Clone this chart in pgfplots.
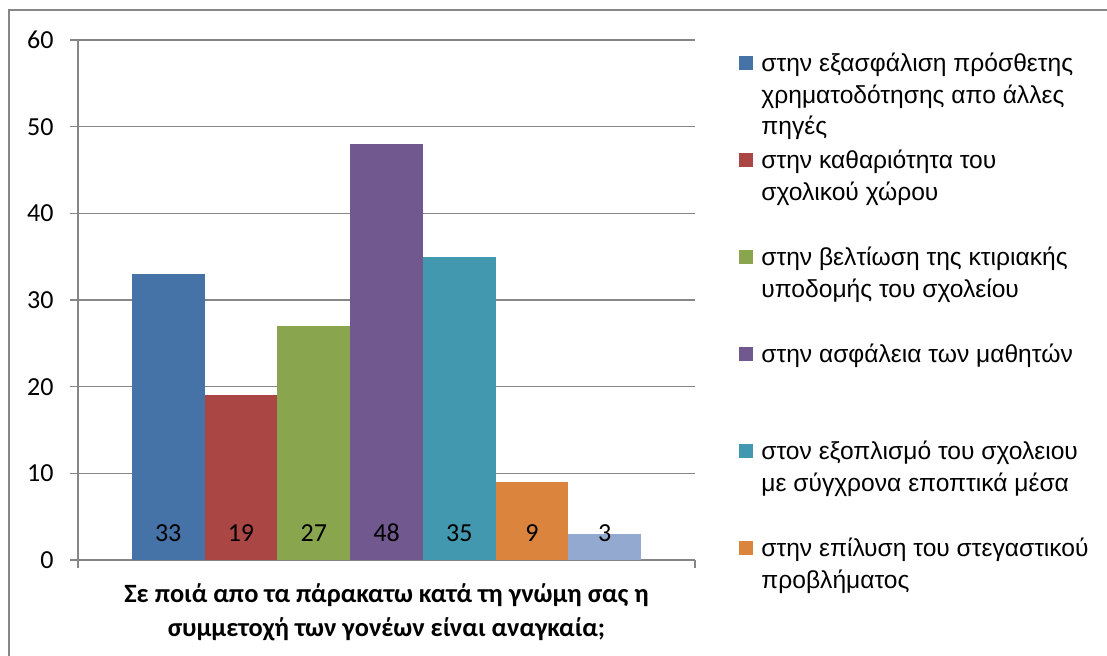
\documentclass[border=0pt]{standalone}
\usepackage{pgfplots}
\pgfplotsset{compat=1.18}
\usepackage{fontspec}
\setmainfont{Carlito}
\newfontfamily\arial{Liberation Sans}
\definecolor{c1}{HTML}{4572A7}
\definecolor{c2}{HTML}{AA4643}
\definecolor{c3}{HTML}{89A54E}
\definecolor{c4}{HTML}{71588F}
\definecolor{c5}{HTML}{4198AF}
\definecolor{c6}{HTML}{DB843D}
\definecolor{c7}{HTML}{93A9CF}
\definecolor{axgray}{HTML}{868686}
\newcommand{\legtxt}[1]{\parbox[t]{180pt}{\raggedright #1}}
\pgfplotsset{
  mybar/.style={ybar, bar width=1, bar shift=0pt, draw=none, fill=#1,
    legend image code/.code={\fill[#1] (0pt,15.3pt) rectangle (7pt,22.3pt);}},
}
\begin{document}
\begin{tikzpicture}
\path[use as bounding box] (0,0) rectangle (553.5pt,328pt);
\draw[axgray, line width=1pt] (4.5pt,-5pt) -- (4.5pt,323pt) -- (560pt,323pt);
\begin{axis}[
  at={(39pt,48pt)}, anchor=south west,
  scale only axis, width=308.5pt, height=260pt,
  xmin=-1.24, xmax=7.24, ymin=0, ymax=60,
  ytick={0,10,...,60},
  xtick={-1.24,7.24}, xticklabels={},
  axis x line*=bottom, axis y line*=left,
  axis line style={axgray, line width=0.7pt, -},
  tick style={axgray, line width=0.7pt},
  tick align=outside, major tick length=4pt,
  ymajorgrids, grid style={axgray, line width=0.6pt},
  /pgf/number format/assume math mode=true,
  yticklabel style={font=\fontsize{13}{15}\selectfont, inner sep=0pt, anchor=east, xshift=-8pt},
  xlabel={\textbf{Σε ποιά απο τα πάρακατω κατά τη γνώμη σας η}\\\textbf{συμμετοχή των γονέων είναι αναγκαία;}},
  xlabel style={at={(axis description cs:0.5,0)}, anchor=north, yshift=-11.5pt, inner sep=0pt,
    align=center, font=\fontsize{13.2}{17.2}\selectfont},
  legend style={at={(axis description cs:1.0713,0.978)}, anchor=north west,
    draw=none, fill=none, inner sep=0pt, row sep=0pt, column sep=4pt,
    nodes={inner sep=0pt, text height=10pt, text depth=38.5pt}, font=\arial\fontsize{12.3}{15.75}\selectfont},
  legend cell align=left,
]
\addplot[mybar=c1] coordinates {(0,33)};
\addlegendentry{\legtxt{στην εξασφάλιση πρόσθετης\\χρηματοδότησης απο άλλες\\πηγές}}
\addplot[mybar=c2] coordinates {(1,19)};
\addlegendentry{\legtxt{στην καθαριότητα του\\σχολικού χώρου}}
\addplot[mybar=c3] coordinates {(2,27)};
\addlegendentry{\legtxt{στην βελτίωση της κτιριακής\\υποδομής του σχολείου}}
\addplot[mybar=c4] coordinates {(3,48)};
\addlegendentry{\legtxt{στην ασφάλεια των μαθητών}}
\addplot[mybar=c5] coordinates {(4,35)};
\addlegendentry{\legtxt{στον εξοπλισμό του σχολειου\\με σύγχρονα εποπτικά μέσα}}
\addplot[mybar=c6] coordinates {(5,9)};
\addlegendentry{\legtxt{στην επίλυση του στεγαστικού\\προβλήματος}}
\addplot[mybar=c7, forget plot] coordinates {(6,3)};
\addplot[forget plot, only marks, mark=none, point meta=explicit symbolic,
  nodes near coords, nodes near coords style={anchor=center, font=\fontsize{13}{15}\selectfont, text=black}]
  coordinates {(0,3.1)[33] (1,3.1)[19] (2,3.1)[27] (3,3.1)[48] (4,3.1)[35] (5,3.1)[9] (6,3.1)[3]};
\end{axis}
\end{tikzpicture}
\end{document}
